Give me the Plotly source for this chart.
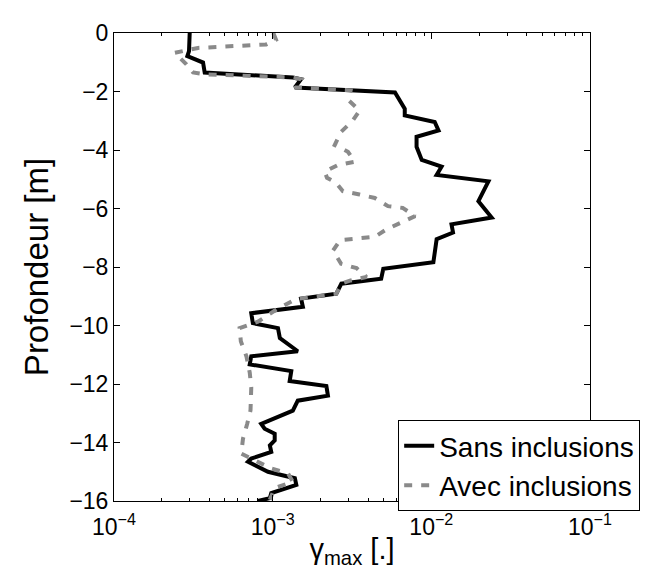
import plotly.graph_objects as go

# Sans inclusions (solid)
depth_sans = [0, -0.62, -0.79, -1.01, -1.35, -1.52, -1.58, -1.86, -2.03, -2.59, -2.82, -3.04, -3.33,
              -3.55, -3.89, -4.34, -4.57, -4.85, -5.07, -5.75, -6.31, -6.54, -6.82, -7.05, -7.84,
              -8.06, -8.40, -8.57, -8.91, -9.08, -9.36, -9.58, -9.92, -10.09, -10.43, -10.88,
              -11.05, -11.33, -11.56, -11.90, -12.07, -12.40, -12.57, -12.91, -13.36, -13.53,
              -13.70, -13.93, -14.10, -14.32, -14.55, -14.66, -15.00, -15.22, -15.45, -15.73,
              -15.90, -16.0]
gamma_sans = [3.0e-4, 2.97e-4, 2.9e-4, 3.64e-4, 3.73e-4, 1.34e-3, 1.51e-3, 1.38e-3, 5.9e-3, 6.8e-3,
              6.8e-3, 1.05e-2, 1.11e-2, 8.07e-3, 8.07e-3, 8.7e-3, 1.16e-2, 1.08e-2, 2.29e-2,
              1.98e-2, 2.40e-2, 1.34e-2, 1.37e-2, 1.08e-2, 1.03e-2, 4.98e-3, 4.83e-3, 2.71e-3,
              2.52e-3, 1.51e-3, 1.55e-3, 7.33e-4, 7.5e-4, 1.08e-3, 1.11e-3, 1.44e-3, 7.33e-4,
              7.17e-4, 1.31e-3, 1.28e-3, 2.18e-3, 2.23e-3, 1.44e-3, 1.34e-3, 8.47e-4, 8.9e-4,
              1.03e-3, 1.03e-3, 9.6e-4, 9.8e-4, 7.33e-4, 6.99e-4, 9.34e-4, 1.38e-3, 1.41e-3,
              9.8e-4, 9.6e-4, 8.07e-4]

# Avec inclusions (dashed)
depth_avec = [0, -0.23, -0.39, -0.45, -0.51, -0.68, -1.07, -1.35, -1.41, -1.52, -1.58, -1.86, -1.96,
              -2.30, -2.65, -2.99, -3.38, -3.83, -4.06, -4.40, -4.51, -4.74, -4.95, -5.13, -5.41,
              -5.52, -5.64, -5.92, -5.98, -6.26, -6.48, -6.71, -6.97, -7.01, -7.08, -7.44, -7.89,
              -8.04, -8.34, -8.46, -8.57, -8.91, -9.10, -9.42, -9.87, -10.09, -10.54, -11.05,
              -11.61, -12.12, -12.90, -13.36, -13.87, -14.38, -14.55, -14.89, -15.06, -15.34,
              -15.56, -15.79, -15.96]
gamma_avec = [1.01e-3, 1.05e-3, 9.1e-4, 5.62e-4, 3.38e-4, 2.41e-4, 2.86e-4, 3.15e-4, 3.73e-4,
              1.34e-3, 1.51e-3, 1.38e-3, 3.1e-3, 3.01e-3, 3.53e-3, 3.2e-3, 2.7e-3, 2.46e-3,
              2.98e-3, 3.29e-3, 2.58e-3, 2.13e-3, 2.2e-3, 2.52e-3, 2.77e-3, 3.53e-3, 4.4e-3,
              5.33e-3, 6.6e-3, 7.9e-3, 6.5e-3, 5.23e-3, 4.4e-3, 3.38e-3, 2.66e-3, 2.4e-3, 2.7e-3,
              3.38e-3, 3.9e-3, 3.1e-3, 2.71e-3, 2.52e-3, 1.4e-3, 1.08e-3, 8.07e-4, 6.19e-4,
              6.3e-4, 6.83e-4, 7.17e-4, 7.33e-4, 7.25e-4, 6.91e-4, 6.5e-4, 6.34e-4, 7.33e-4,
              9.8e-4, 1.25e-3, 1.34e-3, 1.03e-3, 9.8e-4, 9.6e-4]

x_tickvals = [1e-4, 1e-3, 1e-2, 1e-1]
x_ticktext = ["10<sup>\u22124</sup>", "10<sup>\u22123</sup>", "10<sup>\u22122</sup>", "10<sup>\u22121</sup>"]
x_minor_vals = [m * d for d in (1e-4, 1e-3, 1e-2) for m in range(2, 10)]
y_tickvals = [0, -2, -4, -6, -8, -10, -12, -14, -16]
y_ticktext = ["0", "\u22122", "\u22124", "\u22126", "\u22128", "\u221210", "\u221212", "\u221214", "\u221216"]

FONT = "Liberation Sans, Arial, sans-serif"

fig = go.Figure()
fig.add_trace(go.Scatter(x=gamma_sans, y=depth_sans, mode="lines", name="Sans inclusions",
                         line=dict(color="black", width=4)))
fig.add_trace(go.Scatter(x=gamma_avec, y=depth_avec, mode="lines", name="Avec inclusions",
                         line=dict(color="#8a8a8a", width=4, dash="8px,9px")))

fig.update_layout(
    width=654, height=581,
    margin=dict(l=106, r=72, t=20, b=88),
    paper_bgcolor="white", plot_bgcolor="white",
    font=dict(family=FONT, size=23, color="black"),
    showlegend=True,
    legend=dict(x=0.597, y=0.173, xanchor="left", yanchor="top",
                bgcolor="white", bordercolor="black", borderwidth=1,
                font=dict(size=28, family=FONT), tracegroupgap=0, itemwidth=30),
)
fig.update_xaxes(type="log", range=[-4, -1], tickmode="array", tickvals=x_tickvals, ticktext=x_ticktext,
                 ticks="inside", ticklen=6, tickcolor="black", showline=True, linecolor="black",
                 linewidth=1, mirror="allticks", showgrid=False, zeroline=False,
                 minor=dict(tickmode="array", tickvals=x_minor_vals, ticks="inside", ticklen=3,
                            tickcolor="black", showgrid=False),
                 tickfont=dict(size=23), ticklabelstandoff=5,
                 title=dict(text="\u03b3<sub>max</sub> [.]", font=dict(size=29), standoff=0))
fig.update_yaxes(range=[-16, 0], tickvals=y_tickvals, ticktext=y_ticktext,
                 ticks="inside", ticklen=6, tickcolor="black", showline=True, linecolor="black",
                 linewidth=1, mirror="allticks", showgrid=False, zeroline=False,
                 tickfont=dict(size=23),
                 title=dict(text="Profondeur [m]", font=dict(size=33), standoff=10))

fig.write_html("out.html")
